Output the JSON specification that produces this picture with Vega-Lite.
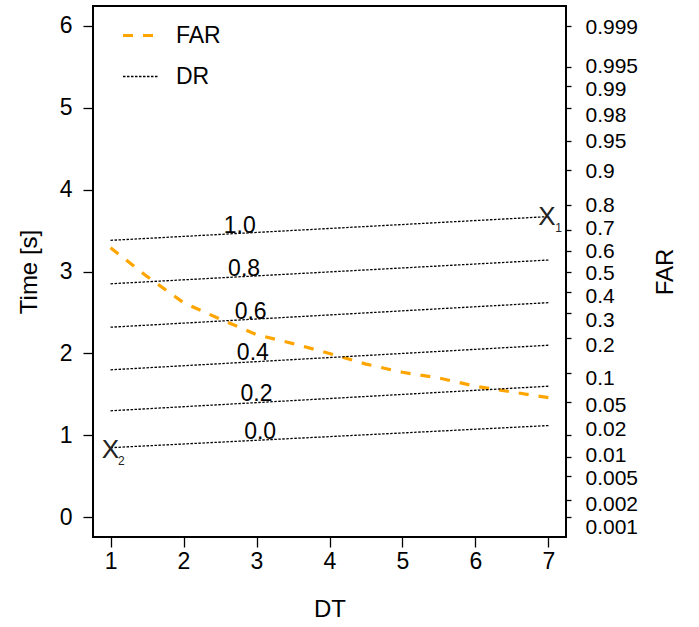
{
  "$schema": "https://vega.github.io/schema/vega-lite/v6.json",
  "width": 473,
  "height": 531,
  "autosize": {"type": "none"},
  "padding": {"left": 93, "top": 6, "right": 133, "bottom": 90},
  "background": "white",
  "config": {
    "font": "Liberation Sans",
    "view": {"stroke": "black", "strokeWidth": 2},
    "axis": {
      "labelFont": "Liberation Sans", "titleFont": "Liberation Sans",
      "labelFontSize": 23, "titleFontSize": 24, "labelColor": "black", "titleColor": "black",
      "titleFontWeight": "normal", "tickColor": "black", "tickWidth": 1.3, "domain": false, "grid": false
    },
    "legend": {
      "orient": "none", "legendX": 28, "legendY": 10, "symbolType": "stroke", "symbolSize": 1225,
      "labelFont": "Liberation Sans", "labelFontSize": 23, "labelColor": "black", "labelOffset": 16,
      "rowPadding": 10, "padding": 0
    }
  },
  "datasets": {
    "lines": [
      {"series": "FAR", "grp": "FAR", "dt": 1, "t": 3.29},
      {"series": "FAR", "grp": "FAR", "dt": 1.5, "t": 2.94},
      {"series": "FAR", "grp": "FAR", "dt": 2, "t": 2.62},
      {"series": "FAR", "grp": "FAR", "dt": 2.5, "t": 2.42},
      {"series": "FAR", "grp": "FAR", "dt": 3, "t": 2.23},
      {"series": "FAR", "grp": "FAR", "dt": 3.5, "t": 2.12},
      {"series": "FAR", "grp": "FAR", "dt": 4, "t": 2.0},
      {"series": "FAR", "grp": "FAR", "dt": 4.5, "t": 1.87},
      {"series": "FAR", "grp": "FAR", "dt": 5, "t": 1.77},
      {"series": "FAR", "grp": "FAR", "dt": 5.5, "t": 1.7},
      {"series": "FAR", "grp": "FAR", "dt": 6, "t": 1.6},
      {"series": "FAR", "grp": "FAR", "dt": 7, "t": 1.46},
      {"series": "DR", "grp": "1.0", "dt": 1, "t": 3.38},
      {"series": "DR", "grp": "1.0", "dt": 7, "t": 3.67},
      {"series": "DR", "grp": "0.8", "dt": 1, "t": 2.85},
      {"series": "DR", "grp": "0.8", "dt": 7, "t": 3.14},
      {"series": "DR", "grp": "0.6", "dt": 1, "t": 2.32},
      {"series": "DR", "grp": "0.6", "dt": 7, "t": 2.62},
      {"series": "DR", "grp": "0.4", "dt": 1, "t": 1.8},
      {"series": "DR", "grp": "0.4", "dt": 7, "t": 2.1},
      {"series": "DR", "grp": "0.2", "dt": 1, "t": 1.3},
      {"series": "DR", "grp": "0.2", "dt": 7, "t": 1.6},
      {"series": "DR", "grp": "0.0", "dt": 1, "t": 0.85},
      {"series": "DR", "grp": "0.0", "dt": 7, "t": 1.12}
    ],
    "levels": [
      {"lab": "1.0", "dt": 2.77, "t": 3.56},
      {"lab": "0.8", "dt": 2.83, "t": 3.03},
      {"lab": "0.6", "dt": 2.92, "t": 2.51},
      {"lab": "0.4", "dt": 2.95, "t": 2.0},
      {"lab": "0.2", "dt": 3.0, "t": 1.51},
      {"lab": "0.0", "dt": 3.05, "t": 1.04}
    ],
    "xmain": [
      {"lab": "X", "dt": 6.98, "t": 3.67},
      {"lab": "X", "dt": 1.0, "t": 0.82}
    ],
    "xsub": [
      {"lab": "1", "dt": 7.14, "t": 3.53},
      {"lab": "2", "dt": 1.15, "t": 0.685}
    ],
    "farticks": [
      {"p": "0.999", "t": 6.0}, {"p": "0.995", "t": 5.5006}, {"p": "0.99", "t": 5.2584},
      {"p": "0.98", "t": 4.9937}, {"p": "0.95", "t": 4.5969}, {"p": "0.9", "t": 4.2442},
      {"p": "0.8", "t": 3.817}, {"p": "0.7", "t": 3.5091}, {"p": "0.6", "t": 3.2459},
      {"p": "0.5", "t": 3.0}, {"p": "0.4", "t": 2.7541}, {"p": "0.3", "t": 2.4909},
      {"p": "0.2", "t": 2.183}, {"p": "0.1", "t": 1.7558}, {"p": "0.05", "t": 1.4031},
      {"p": "0.02", "t": 1.0063}, {"p": "0.01", "t": 0.7416}, {"p": "0.005", "t": 0.4994},
      {"p": "0.002", "t": 0.2058}, {"p": "0.001", "t": 0.0}
    ],
    "farlabels": [
      {"p": "0.999", "t": 5.98}, {"p": "0.995", "t": 5.5}, {"p": "0.99", "t": 5.22},
      {"p": "0.98", "t": 4.9}, {"p": "0.95", "t": 4.59}, {"p": "0.9", "t": 4.22},
      {"p": "0.8", "t": 3.81}, {"p": "0.7", "t": 3.52}, {"p": "0.6", "t": 3.25},
      {"p": "0.5", "t": 2.98}, {"p": "0.4", "t": 2.69}, {"p": "0.3", "t": 2.4},
      {"p": "0.2", "t": 2.1}, {"p": "0.1", "t": 1.7}, {"p": "0.05", "t": 1.36},
      {"p": "0.02", "t": 1.07}, {"p": "0.01", "t": 0.76}, {"p": "0.005", "t": 0.48},
      {"p": "0.002", "t": 0.16}, {"p": "0.001", "t": -0.13}
    ]
  },
  "layer": [
    {
      "encoding": {
        "x": {"field": "dt", "type": "quantitative",
              "scale": {"domain": [0.76, 7.24], "nice": false, "zero": false},
              "axis": {"title": "DT", "values": [1, 2, 3, 4, 5, 6, 7], "tickSize": 10, "labelPadding": 3, "titlePadding": 24, "labelFlush": false}},
        "y": {"field": "t", "type": "quantitative",
              "scale": {"domain": [-0.24, 6.24], "nice": false, "zero": false},
              "axis": {"title": "Time [s]", "orient": "left", "values": [0, 1, 2, 3, 4, 5, 6], "tickSize": 10, "labelPadding": 11, "titlePadding": 18, "labelFlush": false}}
      },
      "layer": [
        {
          "data": {"name": "lines"},
          "mark": {"type": "line", "clip": true},
          "encoding": {
            "detail": {"field": "grp"},
            "color": {"field": "series", "type": "nominal",
                      "scale": {"domain": ["FAR", "DR"], "range": ["#FFA500", "black"]},
                      "legend": {"title": null}},
            "strokeDash": {"field": "series", "type": "nominal",
                           "scale": {"domain": ["FAR", "DR"], "range": [[10, 10], [2.5, 1.5]]},
                           "legend": {"title": null}},
            "strokeWidth": {"field": "series", "type": "nominal",
                            "scale": {"domain": ["FAR", "DR"], "range": [3.2, 1.3]},
                            "legend": {"title": null}}
          }
        },
        {
          "data": {"name": "levels"},
          "mark": {"type": "text", "fontSize": 23, "color": "black", "align": "center", "baseline": "middle"},
          "encoding": {"text": {"field": "lab"}}
        },
        {
          "data": {"name": "xmain"},
          "mark": {"type": "text", "fontSize": 26, "color": "#222", "align": "center", "baseline": "middle"},
          "encoding": {"text": {"field": "lab"}}
        },
        {
          "data": {"name": "xsub"},
          "mark": {"type": "text", "fontSize": 12, "color": "#222", "align": "center", "baseline": "middle"},
          "encoding": {"text": {"field": "lab"}}
        }
      ]
    },
    {
      "data": {"name": "farticks"},
      "mark": {"type": "point", "opacity": 0},
      "encoding": {
        "y": {"field": "t", "type": "quantitative",
              "scale": {"domain": [-0.24, 6.24], "nice": false, "zero": false},
              "axis": {"orient": "right", "title": null, "labels": false, "tickSize": 5,
                       "values": [6.0, 5.5006, 5.2584, 4.9937, 4.5969, 4.2442, 3.817, 3.5091, 3.2459, 3.0, 2.7541, 2.4909, 2.183, 1.7558, 1.4031, 1.0063, 0.7416, 0.4994, 0.2058, 0.0]}}
      }
    },
    {
      "data": {"name": "farlabels"},
      "mark": {"type": "point", "opacity": 0},
      "encoding": {
        "y": {"field": "t", "type": "quantitative",
              "scale": {"domain": [-0.24, 6.24], "nice": false, "zero": false},
              "axis": {"orient": "right", "title": "FAR", "titleAngle": 270, "ticks": false, "labelPadding": 19,
                       "labelFontSize": 21,
                       "titlePadding": 40, "labelFlush": false, "labelOverlap": false, "labelAlign": "left",
                       "values": [5.98, 5.5, 5.22, 4.9, 4.59, 4.22, 3.81, 3.52, 3.25, 2.98, 2.69, 2.4, 2.1, 1.7, 1.36, 1.07, 0.76, 0.48, 0.16, -0.13],
                       "labelExpr": "['0.999','0.995','0.99','0.98','0.95','0.9','0.8','0.7','0.6','0.5','0.4','0.3','0.2','0.1','0.05','0.02','0.01','0.005','0.002','0.001'][indexof([5.98,5.5,5.22,4.9,4.59,4.22,3.81,3.52,3.25,2.98,2.69,2.4,2.1,1.7,1.36,1.07,0.76,0.48,0.16,-0.13], datum.value)]"}}
      }
    }
  ],
  "resolve": {"scale": {"y": "independent"}}
}
